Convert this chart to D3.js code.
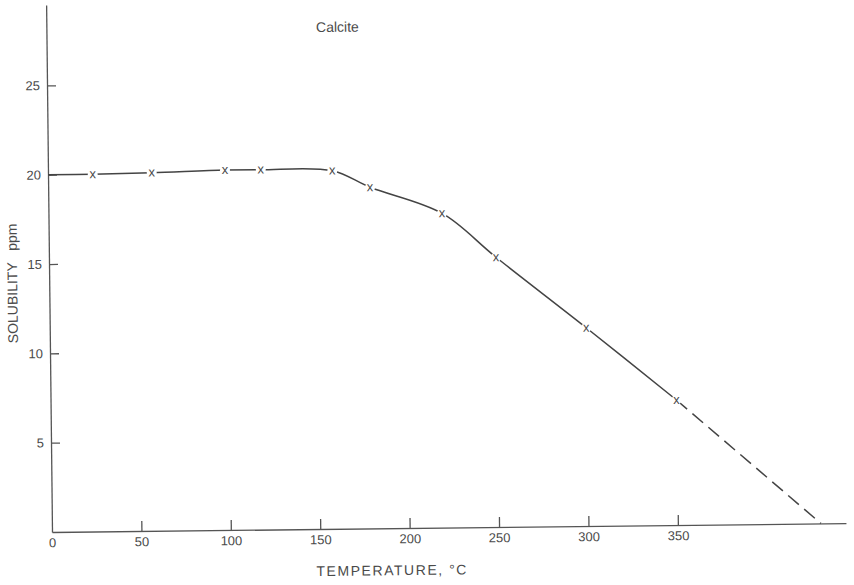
<!DOCTYPE html>
<html>
<head>
<meta charset="utf-8">
<script src="https://cdn.jsdelivr.net/npm/d3@7"></script>
<style>
  body { margin: 0; background: #fff; }
  svg text { font-family: "Liberation Sans", Arial, sans-serif; fill: #4a4a4a; }
  .axis path, .axis line { stroke: #555; stroke-width: 1.3; }
</style>
</head>
<body>
<svg width="854" height="585"></svg>
<script>
// measured points (temperature in deg C, solubility in ppm)
var temps = [25, 58, 99, 119, 159, 180, 220, 250, 300, 350];
var solubility = [20.0, 20.05, 20.15, 20.15, 20.05, 19.1, 17.6, 15.1, 11.1, 7.0];
// curve start at the axis and dashed extrapolation
var curveStart = [0, 20.0];
var extrapTemps = [350, 430];
var extrapSolubility = [7.0, 0];
var xTicks = [0, 50, 100, 150, 200, 250, 300, 350];
var yTicks = [5, 10, 15, 20, 25];

var svg = d3.select("svg");

var x = d3.scaleLinear().domain([0, 444]).range([52, 846]);
var y = d3.scaleLinear().domain([0, 29.5]).range([532, 5]);

// the scanned figure is slightly tilted
var g = svg.append("g")
  .attr("transform", "rotate(-0.64,52,532)");

g.append("g")
  .attr("class", "axis axis--x")
  .attr("transform", "translate(0," + y(0) + ")")
  .call(d3.axisBottom(x).tickValues(xTicks).tickSizeInner(-10).tickSizeOuter(0).tickPadding(6))
  .call(function (a) {
    a.selectAll("text").style("font-size", "13px").attr("fill", "#555");
    a.selectAll(".tick").filter(function (d) { return d === 0; }).select("line").remove();
  });

g.append("g")
  .attr("class", "axis axis--y")
  .attr("transform", "translate(" + x(0) + ",0)")
  .call(d3.axisLeft(y).tickValues(yTicks).tickSizeInner(-9).tickSizeOuter(0).tickPadding(7))
  .call(function (a) {
    a.selectAll("text").style("font-size", "13px").attr("fill", "#555");
  });

var pts = [curveStart].concat(temps.map(function (t, i) { return [t, solubility[i]]; }));

var line = d3.line()
  .x(function (d) { return x(d[0]); })
  .y(function (d) { return y(d[1]); })
  .curve(d3.curveCatmullRom.alpha(0.5));

g.append("path")
  .datum(pts)
  .attr("d", line)
  .attr("fill", "none")
  .attr("stroke", "#444")
  .attr("stroke-width", 1.5);

g.append("path")
  .datum(extrapTemps.map(function (t, i) { return [t, extrapSolubility[i]]; }))
  .attr("d", d3.line().x(function (d) { return x(d[0]); }).y(function (d) { return y(d[1]); }))
  .attr("fill", "none")
  .attr("stroke", "#444")
  .attr("stroke-width", 1.5)
  .attr("stroke-dasharray", "14,7");

// x markers, with a small gap cut in the line
var marks = g.selectAll(".mark")
  .data(pts.slice(1))
  .enter().append("g")
  .attr("class", "mark")
  .attr("transform", function (d) { return "translate(" + x(d[0]) + "," + y(d[1]) + ")"; });

marks.append("circle").attr("r", 5).attr("fill", "#fff");
marks.append("text")
  .attr("text-anchor", "middle")
  .attr("dy", "0.3em")
  .style("font-size", "13px")
  .text("x");

g.append("text")
  .attr("x", 343)
  .attr("y", 35)
  .attr("text-anchor", "middle")
  .style("font-size", "14px")
  .text("Calcite");

g.append("text")
  .attr("x", 391)
  .attr("y", 579)
  .attr("text-anchor", "middle")
  .style("font-size", "14px")
  .attr("textLength", 150)
  .text("TEMPERATURE, °C");

g.append("text")
  .attr("transform", "translate(20,283) rotate(-90)")
  .attr("text-anchor", "middle")
  .style("font-size", "14px")
  .attr("xml:space", "preserve")
  .text("SOLUBILITY   ppm");
</script>
</body>
</html>
